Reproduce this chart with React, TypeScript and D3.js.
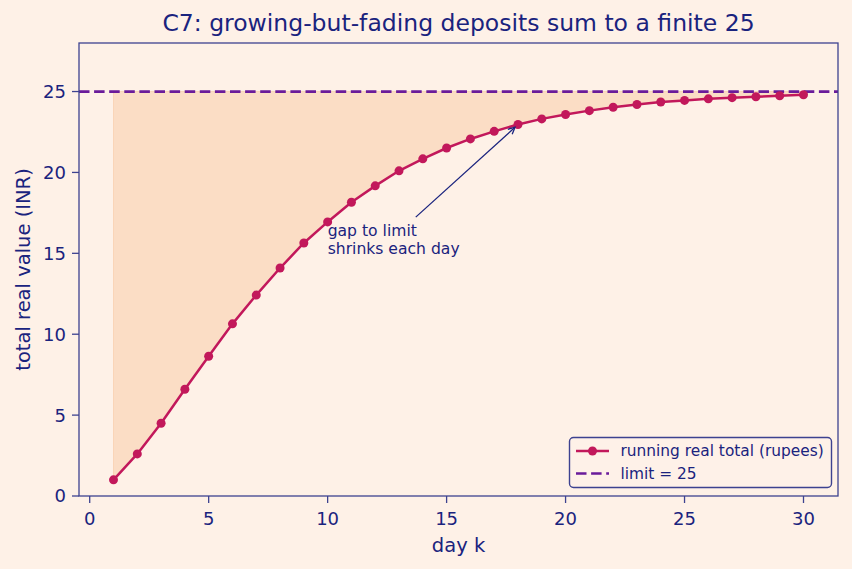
import React from "react";
import * as d3 from "d3";

const days = [1, 2, 3, 4, 5, 6, 7, 8, 9, 10, 11, 12, 13, 14, 15, 16, 17, 18, 19, 20, 21, 22, 23, 24, 25, 26, 27, 28, 29, 30];
const runningTotal = [1.0, 2.6, 4.5, 6.6, 8.64, 10.64, 12.42, 14.09, 15.64, 16.94, 18.16, 19.17, 20.1, 20.84, 21.51, 22.07, 22.54, 22.96, 23.31, 23.58, 23.82, 24.03, 24.2, 24.35, 24.45, 24.55, 24.62, 24.68, 24.74, 24.8];
const limitValue = 25;
const xTicks = [0, 5, 10, 15, 20, 25, 30];
const yTicks = [0, 5, 10, 15, 20, 25];
const titleText = "C7: growing-but-fading deposits sum to a finite 25";
const xLabel = "day k";
const yLabel = "total real value (INR)";
const legendLabels = ["running real total (rupees)", "limit = 25"];
const annotationLines = ["gap to limit", "shrinks each day"];
const annotationText = { x: 10, y: 15 };
const annotationTargetDay = 18;

const W = 852;
const H = 569;
const M = { left: 79, right: 838, top: 43, bottom: 496 };
const FONT = "'DejaVu Sans', sans-serif";
const BG = "#fef1e7";
const NAVY = "#1a237e";
const SPINE = "#3d4290";
const LINE = "#c2185b";
const LIMIT = "#6a1b9a";
const FILL = "#f4a261";

export default function App() {
  const x = d3.scaleLinear().domain([-0.45, 31.45]).range([M.left, M.right]);
  const y = d3.scaleLinear().domain([0, 28]).range([M.bottom, M.top]);
  const pts = days.map((d, i) => [d, runningTotal[i]] as [number, number]);

  const linePath = d3.line<[number, number]>().x(d => x(d[0])).y(d => y(d[1]))(pts) || "";
  const areaPath = d3
    .area<[number, number]>()
    .x(d => x(d[0]))
    .y0(d => y(d[1]))
    .y1(() => y(limitValue))(pts) || "";

  // annotation geometry
  const annFont = 15.6;
  const lineH = annFont * 1.17;
  const tx = x(annotationText.x);
  const tBottom = y(annotationText.y) + 3;
  const tTop = tBottom - lineH * annotationLines.length;
  const tWidth = 130;
  const cx = tx + tWidth / 2;
  const cy = (tTop + tBottom) / 2;
  const tgtIdx = days.indexOf(annotationTargetDay);
  const tgx = x(annotationTargetDay);
  const tgy = y(runningTotal[tgtIdx]);
  const dxA = tgx - cx;
  const dyA = tgy - cy;
  const len = Math.hypot(dxA, dyA);
  const tClip = (cy - tTop) / -dyA;
  const sx0 = cx + dxA * tClip + (dxA / len) * 4;
  const sy0 = cy + dyA * tClip + (dyA / len) * 4;
  const ex = tgx - (dxA / len) * 4;
  const ey = tgy - (dyA / len) * 4;
  const ang = Math.atan2(ey - sy0, ex - sx0);
  const hl = 7.5;
  const ha = 0.45;
  const h1 = [ex - hl * Math.cos(ang - ha), ey - hl * Math.sin(ang - ha)];
  const h2 = [ex - hl * Math.cos(ang + ha), ey - hl * Math.sin(ang + ha)];

  const legend = { x: 569.5, y: 437.5, w: 262, h: 50 };

  return (
    <svg
      width={W}
      height={H}
      style={{ position: "absolute", left: 0, top: 0, display: "block", background: BG }}
      fontFamily={FONT}
    >
      <rect x={0} y={0} width={W} height={H} fill={BG} />
      <defs>
        <clipPath id="plotclip">
          <rect x={M.left} y={M.top} width={M.right - M.left} height={M.bottom - M.top} />
        </clipPath>
      </defs>

      <g clipPath="url(#plotclip)">
        <path d={areaPath} fill={FILL} fillOpacity={0.25} stroke={FILL} strokeOpacity={0.25} strokeWidth={1} />
        <line
          x1={M.left}
          x2={M.right}
          y1={y(limitValue)}
          y2={y(limitValue)}
          stroke={LIMIT}
          strokeWidth={2.7}
          strokeDasharray="10.5 4.6"
        />
        <path d={linePath} fill="none" stroke={LINE} strokeWidth={2.5} strokeLinejoin="round" />
        {pts.map((p, i) => (
          <circle key={i} cx={x(p[0])} cy={y(p[1])} r={4.5} fill={LINE} />
        ))}
      </g>

      {/* annotation */}
      <g fill={NAVY} fontSize={annFont}>
        {annotationLines.map((t, i) => (
          <text key={i} x={tx} y={tTop + lineH * (i + 1) - 2.5}>
            {t}
          </text>
        ))}
      </g>
      <line x1={sx0} y1={sy0} x2={ex} y2={ey} stroke={NAVY} strokeWidth={1.3} />
      <path
        d={`M${h1[0]},${h1[1]}L${ex},${ey}L${h2[0]},${h2[1]}`}
        fill="none"
        stroke={NAVY}
        strokeWidth={1.3}
      />

      {/* spines */}
      <rect
        x={M.left}
        y={M.top}
        width={M.right - M.left}
        height={M.bottom - M.top}
        fill="none"
        stroke={SPINE}
        strokeWidth={1.3}
      />

      {/* x ticks */}
      {xTicks.map(t => (
        <g key={t}>
          <line x1={x(t)} x2={x(t)} y1={M.bottom} y2={M.bottom + 7} stroke={SPINE} strokeWidth={1.3} />
          <text x={x(t)} y={M.bottom + 29} textAnchor="middle" fontSize={18} fill={NAVY}>
            {t}
          </text>
        </g>
      ))}
      {/* y ticks */}
      {yTicks.map(t => (
        <g key={t}>
          <line x1={M.left - 7} x2={M.left} y1={y(t)} y2={y(t)} stroke={SPINE} strokeWidth={1.3} />
          <text x={M.left - 13} y={y(t)} dy="0.36em" textAnchor="end" fontSize={18} fill={NAVY}>
            {t}
          </text>
        </g>
      ))}

      <text x={(M.left + M.right) / 2} y={552} textAnchor="middle" fontSize={19.5} fill={NAVY}>
        {xLabel}
      </text>
      <text
        transform={`translate(30,${(M.top + M.bottom) / 2}) rotate(-90)`}
        textAnchor="middle"
        fontSize={19.5}
        fill={NAVY}
      >
        {yLabel}
      </text>
      <text x={(M.left + M.right) / 2} y={31} textAnchor="middle" fontSize={23.5} fill={NAVY}>
        {titleText}
      </text>

      {/* legend */}
      <rect
        x={legend.x}
        y={legend.y}
        width={legend.w}
        height={legend.h}
        rx={4}
        fill={BG}
        fillOpacity={0.85}
        stroke={SPINE}
        strokeWidth={1.4}
      />
      <line x1={576} x2={609} y1={451} y2={451} stroke={LINE} strokeWidth={2.5} />
      <circle cx={592.5} cy={451} r={4.5} fill={LINE} />
      <line x1={576} x2={609} y1={473.5} y2={473.5} stroke={LIMIT} strokeWidth={2.7} strokeDasharray="10.5 4.6" />
      <text x={620.5} y={451} dy="0.35em" fontSize={15.4} fill={NAVY}>
        {legendLabels[0]}
      </text>
      <text x={620.5} y={473.5} dy="0.35em" fontSize={15.4} fill={NAVY}>
        {legendLabels[1]}
      </text>
    </svg>
  );
}
